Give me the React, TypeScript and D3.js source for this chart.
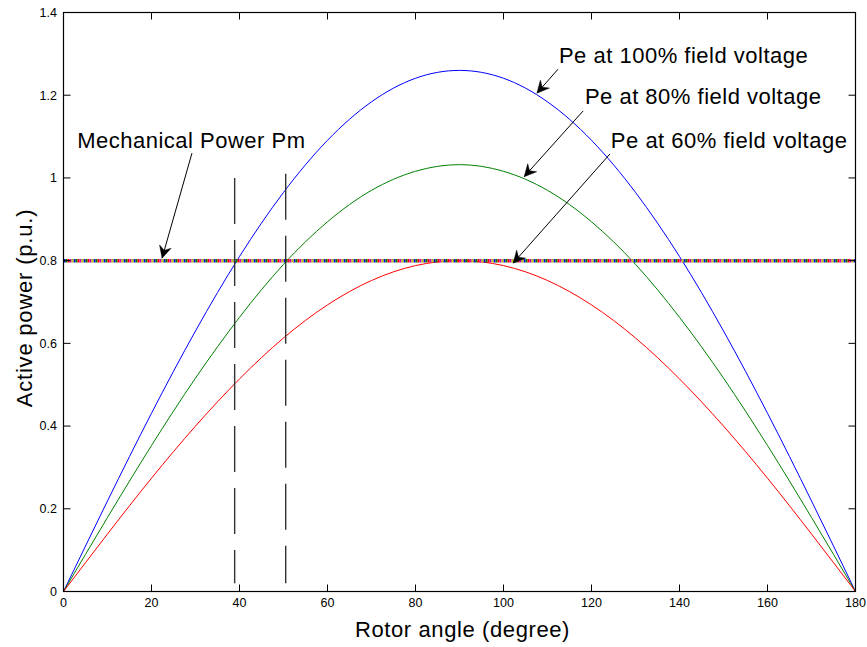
import React from "react";
import * as d3 from "d3";

const angles = [0, 10, 20, 30, 40, 50, 60, 70, 80, 90, 100, 110, 120, 130, 140, 150, 160, 170, 180];
const pe100 = [0, 0.219, 0.431, 0.63, 0.81, 0.965, 1.091, 1.184, 1.241, 1.26, 1.241, 1.184, 1.091, 0.965, 0.81, 0.63, 0.431, 0.219, 0];
const pe80 = [0, 0.179, 0.353, 0.516, 0.663, 0.791, 0.894, 0.97, 1.016, 1.032, 1.016, 0.97, 0.894, 0.791, 0.663, 0.516, 0.353, 0.179, 0];
const pe60 = [0, 0.139, 0.274, 0.4, 0.514, 0.613, 0.693, 0.752, 0.788, 0.8, 0.788, 0.752, 0.693, 0.613, 0.514, 0.4, 0.274, 0.139, 0];
const pmValue = 0.8;
const xTicks = [0, 20, 40, 60, 80, 100, 120, 140, 160, 180];
const yTicks = [0, 0.2, 0.4, 0.6, 0.8, 1, 1.2, 1.4];
const yTickLabels = ["0", "0.2", "0.4", "0.6", "0.8", "1", "1.2", "1.4"];
const dashX = [38.9, 50.5];
const dashTop = [1.0, 1.01];
const dashBottom = [0.02, 0.02];

const annTexts = ["Mechanical Power Pm", "Pe at 100% field voltage", "Pe at 80% field voltage", "Pe at 60% field voltage"];
const annTextX = [3.1, 112.6, 118.5, 124.4];
const annTextY = [1.0725, 1.277, 1.178, 1.072];
const arrowFromX = [29.2, 112.4, 118.1, 124.2];
const arrowFromY = [1.06, 1.263, 1.162, 1.058];
const arrowToX = [22.4, 107.6, 104.7, 102.2];
const arrowToY = [0.806, 1.205, 1.003, 0.794];

const W = 867, H = 647;
const left = 63.5, right = 855.5, top = 12.5, bottom = 591.5;
const FONT = "'Liberation Sans', Arial, Helvetica, sans-serif";

export default function App() {
  const x = d3.scaleLinear().domain([0, 180]).range([left, right]);
  const y = d3.scaleLinear().domain([0, 1.4]).range([bottom, top]);
  const line = d3
    .line<number>()
    .x((_, i) => x(angles[i]))
    .y((d) => y(d))
    .curve(d3.curveNatural);

  const series = [
    { v: pe100, c: "#0000ff" },
    { v: pe80, c: "#008000" },
    { v: pe60, c: "#ff0000" },
  ];

  const arrowHead = (x1: number, y1: number, x2: number, y2: number) => {
    const ang = Math.atan2(y2 - y1, x2 - x1);
    const L = 12, Wd = 6, notch = 8;
    const ux = Math.cos(ang), uy = Math.sin(ang);
    const px = -uy, py = ux;
    const bx = x2 - ux * L, by = y2 - uy * L;
    const nx = x2 - ux * notch, ny = y2 - uy * notch;
    return `M${x2},${y2}L${bx + px * Wd},${by + py * Wd}L${nx},${ny}L${bx - px * Wd},${by - py * Wd}Z`;
  };

  return (
    <svg width={W} height={H} style={{ position: "absolute", left: 0, top: 0, background: "#fff" }} fontFamily={FONT}>
      <rect x={0} y={0} width={W} height={H} fill="#fff" />
      {series.map((s, i) => (
        <path key={i} d={line(s.v) || ""} fill="none" stroke={s.c} strokeWidth={1} />
      ))}
      {["#0000ff", "#008000", "#ff0000", "#bf00bf", "#bfbf00"].map((c, i) => (
        <line
          key={c}
          x1={x(0)}
          x2={x(180)}
          y1={y(pmValue)}
          y2={y(pmValue)}
          stroke={c}
          strokeWidth={3.5}
          strokeDasharray="2 8"
          strokeDashoffset={-i * 2}
        />
      ))}
      {dashX.map((dx, i) => (
        <line
          key={i}
          x1={x(dx)}
          x2={x(dx)}
          y1={y(dashTop[i])}
          y2={y(dashBottom[i])}
          stroke="#333"
          strokeWidth={1.4}
          strokeDasharray="46 16"
        />
      ))}
      <rect x={left} y={top} width={right - left} height={bottom - top} fill="none" stroke="#000" strokeWidth={1.2} />
      {xTicks.map((t) => (
        <g key={"x" + t}>
          <line x1={x(t)} x2={x(t)} y1={bottom} y2={bottom - 7} stroke="#000" strokeWidth={1} />
          <line x1={x(t)} x2={x(t)} y1={top} y2={top + 7} stroke="#000" strokeWidth={1} />
          <text x={x(t)} y={607} fontSize={12.5} textAnchor="middle" fill="#000">
            {t}
          </text>
        </g>
      ))}
      {yTicks.map((t, i) => (
        <g key={"y" + t}>
          <line x1={left} x2={left + 7} y1={y(t)} y2={y(t)} stroke="#000" strokeWidth={1} />
          <line x1={right} x2={right - 7} y1={y(t)} y2={y(t)} stroke="#000" strokeWidth={1} />
          <text x={57} y={y(t)} dy="0.35em" fontSize={12.5} textAnchor="end" fill="#000">
            {yTickLabels[i]}
          </text>
        </g>
      ))}
      <text x={(left + right) / 2 + 3} y={637} fontSize={22} letterSpacing={0.6} textAnchor="middle" fill="#000">
        Rotor angle (degree)
      </text>
      <text
        transform={`translate(32,${308}) rotate(-90)`}
        fontSize={22}
        letterSpacing={0.8}
        textAnchor="middle"
        fill="#000"
      >
        Active power (p.u.)
      </text>
      {annTexts.map((t, i) => {
        const x1 = x(arrowFromX[i]), y1 = y(arrowFromY[i]);
        const x2 = x(arrowToX[i]), y2 = y(arrowToY[i]);
        return (
          <g key={t}>
            <text x={x(annTextX[i])} y={y(annTextY[i])} fontSize={22} letterSpacing={0.5} fill="#000">
              {t}
            </text>
            <line x1={x1} y1={y1} x2={x2} y2={y2} stroke="#000" strokeWidth={1} />
            <path d={arrowHead(x1, y1, x2, y2)} fill="#000" stroke="#000" strokeWidth={0.5} />
          </g>
        );
      })}
    </svg>
  );
}
